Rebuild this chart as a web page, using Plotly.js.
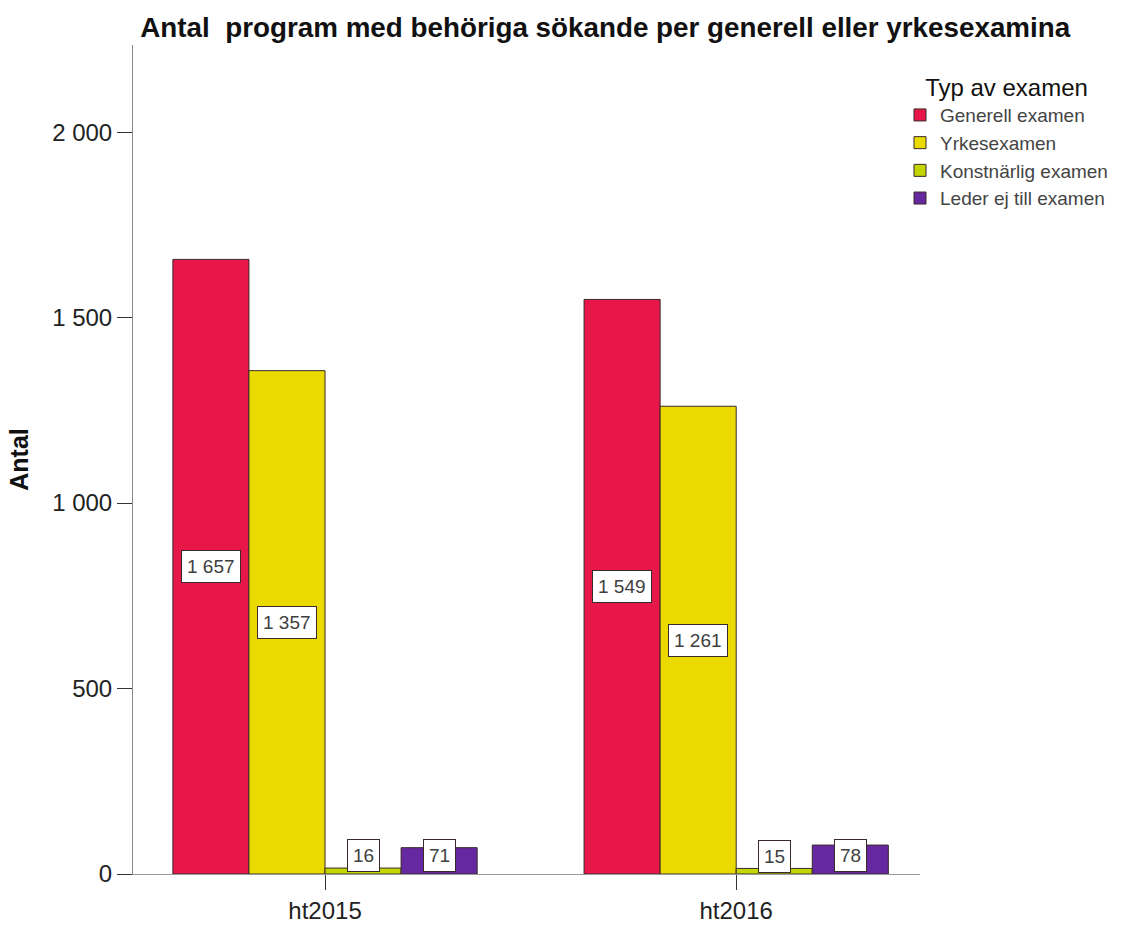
<!DOCTYPE html>
<html>
<head>
<meta charset="utf-8">
<script src="https://cdn.plot.ly/plotly-3.0.1.min.js"></script>
<style>html,body{margin:0;padding:0;background:#fff;}#chart{width:1125px;height:926px;}</style>
</head>
<body>
<div id="chart"></div>
<script>
var categories = ["ht2015", "ht2016"];
var seriesNames = ["Generell examen", "Yrkesexamen", "Konstnärlig examen", "Leder ej till examen"];
var generell = [1657, 1549];
var yrkes = [1357, 1261];
var konstnarlig = [16, 15];
var lederEj = [71, 78];
var colors = ["#E8174A", "#EBDA00", "#C3D600", "#6628A0"];
var yTicks = [0, 500, 1000, 1500, 2000];

var seriesValues = [generell, yrkes, konstnarlig, lederEj];
var FONT = '"Liberation Sans", Arial, sans-serif';

function fmt(v) {
  return String(v).replace(/\B(?=(\d{3})+(?!\d))/g, " ");
}

var traces = seriesValues.map(function (vals, i) {
  return {
    type: "bar",
    name: seriesNames[i],
    x: categories,
    y: vals,
    marker: { color: colors[i], line: { color: "#3a2a2a", width: 1 } },
    hoverinfo: "x+y+name"
  };
});

var bargap = 0.26;
var nSeries = seriesValues.length;
var barW = (1 - bargap) / nSeries;
var yMax = 2235;
var plotH = 926 - 45 - 52;

var annotations = [];
seriesValues.forEach(function (vals, i) {
  vals.forEach(function (v, c) {
    var midPx = (v / 2) / yMax * plotH;
    var shift = Math.max(0, 18 - midPx);
    annotations.push({
      x: c + (i - (nSeries - 1) / 2) * barW,
      y: v / 2,
      xref: "x", yref: "y",
      text: fmt(v),
      showarrow: false,
      yshift: shift,
      font: { family: FONT, size: 19, color: "#404040" },
      bgcolor: "#ffffff",
      bordercolor: "#3a2a2a",
      borderwidth: 1,
      borderpad: 5
    });
  });
});

var layout = {
  width: 1125,
  height: 926,
  paper_bgcolor: "#ffffff",
  plot_bgcolor: "#ffffff",
  margin: { l: 133, r: 205, t: 45, b: 52 },
  font: { family: FONT, color: "#222" },
  separators: ", ",
  barmode: "group",
  bargap: bargap,
  bargroupgap: 0,
  title: {
    text: "<b>Antal  program med behöriga sökande per generell eller yrkesexamina</b>",
    font: { family: FONT, size: 27.8, color: "#111" },
    x: 0.538, xanchor: "center",
    y: 0.971, yanchor: "middle"
  },
  xaxis: {
    type: "category",
    range: [-0.467, 1.447],
    showline: true, linecolor: "#999", linewidth: 1,
    ticks: "outside", ticklen: 15, tickcolor: "#333", tickwidth: 1,
    tickfont: { family: FONT, size: 24, color: "#222" },
    showgrid: false, zeroline: false
  },
  yaxis: {
    range: [0, yMax],
    tickvals: yTicks,
    ticktext: yTicks.map(fmt),
    showline: true, linecolor: "#888", linewidth: 1,
    ticks: "outside", ticklen: 15, tickcolor: "#333", tickwidth: 1,
    tickfont: { family: FONT, size: 24, color: "#222" },
    showgrid: false, zeroline: false,
    title: { text: "<b>Antal</b>", font: { family: FONT, size: 25, color: "#111" }, standoff: 16 }
  },
  legend: {
    x: 0.9746, xanchor: "left", y: 0.976, yanchor: "top",
    title: { text: "Typ av examen", font: { family: FONT, size: 24, color: "#111" }, side: "top center" },
    font: { family: FONT, size: 19, color: "#444" },
    bgcolor: "rgba(0,0,0,0)"
  },
  annotations: annotations,
  showlegend: true
};

Plotly.newPlot("chart", traces, layout, { displayModeBar: false, staticPlot: true });
</script>
</body>
</html>
